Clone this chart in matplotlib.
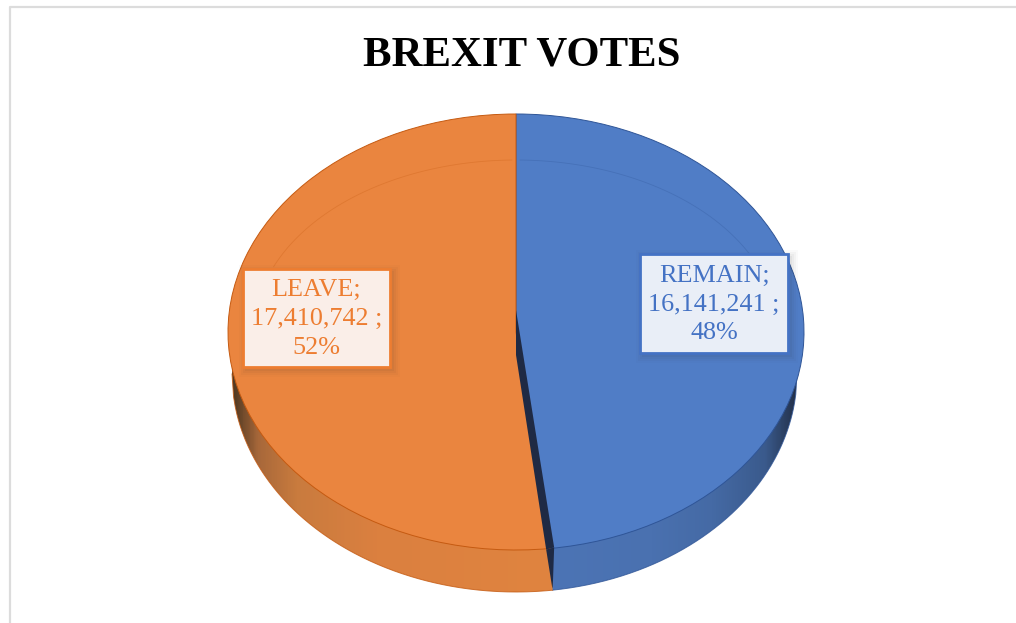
#!/usr/bin/env python3
"""Pseudo-3D pie of the Brexit referendum votes."""

import numpy as np
import matplotlib
matplotlib.use("Agg")
import matplotlib.pyplot as plt
import matplotlib.patches as patches
from matplotlib.colors import LinearSegmentedColormap
from matplotlib.path import Path

W, H = 1016, 623

categories = ["REMAIN", "LEAVE"]
votes = [16141241, 17410742]
shares = [48, 52]

TITLE = "BREXIT VOTES"

C_TOP = ["#507dc6", "#ea853f"]
C_RIM = ["#2f5597", "#c55a11"]
C_TEXT = ["#4472c4", "#ed7d31"]
C_BOX = ["#e9eef7", "#faeee8"]
C_INNER = "#1f2a44"

# pie geometry in pixels
CX, CY = 516, 332
RX, RY = 288, 218
DEPTH = 42
# the lower rim looks a little narrower than the top face
RX_LOW_LEFT, RX_LOW_RIGHT = 284, 281

plt.rcParams["font.family"] = ["Liberation Serif", "DejaVu Serif"]

fig = plt.figure(figsize=(W / 100, H / 100), dpi=100, facecolor="white")


def pixel_axes(zorder):
    ax = fig.add_axes([0, 0, 1, 1], zorder=zorder)
    ax.set_xlim(0, W)
    ax.set_ylim(H, 0)
    ax.axis("off")
    return ax


ax_wall = pixel_axes(1)
ax_over = pixel_axes(3)

# top face: the pie axes box is the bounding box of the ellipse, so it squashes
ax_pie = fig.add_axes([(CX - RX) / W, 1 - (CY + RY) / H, 2 * RX / W, 2 * RY / H],
                      zorder=2)
wedges, _ = ax_pie.pie(votes, colors=C_TOP, startangle=90, counterclock=False,
                       radius=1.0, wedgeprops={"linewidth": 0.7})
for w, ec in zip(wedges, C_RIM):
    w.set_edgecolor(ec)
    w.set_clip_on(False)
ax_pie.set_aspect("auto")
ax_pie.set_xlim(-1, 1)
ax_pie.set_ylim(-1, 1)

# where the slice boundary meets the rim
split = 2 * np.pi * votes[0] / sum(votes)
rim_x = CX + RX * np.sin(split)
rim_y = CY - RY * np.cos(split)

t = np.linspace(0, 1, 200)


def lower_rim(xs, rx):
    return CY + DEPTH + RY * np.sqrt(np.clip(1 - ((xs - CX) / rx) ** 2, 0, 1))


def band(x0, x1, rx):
    xs = np.linspace(x0, x1, 200)
    pts = np.r_[np.c_[xs, np.full_like(xs, CY)], np.c_[xs[::-1], lower_rim(xs[::-1], rx)]]
    return Path(np.r_[pts, pts[:1]])


# side wall, shaded towards the outer ends
wall_specs = [
    (rim_x + 2.5, CX + RX_LOW_RIGHT, RX_LOW_RIGHT, C_RIM[0],
     ["#4c74b5", "#4a71b0", "#456aa5", "#3a5a8c", "#222f48"], [0, 0.4, 0.65, 0.87, 1]),
    (CX - RX_LOW_LEFT, rim_x + 2.5, RX_LOW_LEFT, C_RIM[1],
     ["#4f3822", "#a8683a", "#c97b3e", "#db8040", "#e0843f"], [0, 0.08, 0.2, 0.45, 1]),
]
for x0, x1, rx, edge, cols, stops in wall_specs:
    cmap = LinearSegmentedColormap.from_list("wall", list(zip(stops, cols)))
    im = ax_wall.imshow(t[None, :], cmap=cmap, aspect="auto",
                        extent=(x0, x1, CY + DEPTH + RY + 2, CY - 2))
    im.set_clip_path(patches.PathPatch(band(x0, x1, rx), transform=ax_wall.transData))
    xs = np.linspace(x0, x1, 200)
    ax_wall.plot(xs, lower_rim(xs, rx), color=edge, lw=0.7, alpha=0.8)
ax_wall.set_xlim(0, W)
ax_wall.set_ylim(H, 0)

# dark inner wall showing through the gap between the slices
ax_over.add_patch(patches.Polygon(
    [(CX, CY - 22), (CX, CY + 23), (rim_x - 4, rim_y + 1), (rim_x + 4, rim_y - 1)],
    closed=True, fc=C_INNER, ec="none"))
ax_over.add_patch(patches.Polygon(
    [(rim_x - 4, rim_y + 1), (rim_x + 4, rim_y - 1), (rim_x + 2.5, rim_y + DEPTH)],
    closed=True, fc=C_INNER, ec="none"))

# faint bevel ring on the top face, only on its upper part
th = np.linspace(0, 2 * np.pi, 400)
for i, (lo, hi) in enumerate([(0, split), (split, 2 * np.pi)]):
    ring_x = CX + 262 * np.sin(th)
    ring_y = CY - 172 * np.cos(th)
    mask = (th > lo) & (th < hi) & (ring_y < 268)
    ax_over.plot(ring_x[mask], ring_y[mask], color=C_RIM[i], lw=0.6, alpha=0.3, zorder=0.5)

# data labels with their soft drop shadow
boxes = [(640, 254, 148, 99), (243, 269, 147, 98)]
for name, v, pct, (bx, by, bw, bh), col, fc in zip(categories, votes, shares, boxes, C_TEXT, C_BOX):
    for grow, a in [(7, 0.02), (5, 0.03), (3, 0.04), (1, 0.05)]:
        ax_over.add_patch(patches.Rectangle((bx + 3 - grow, by + 3 - grow),
                                            bw + 2 * grow, bh + 2 * grow,
                                            fc="#303030", ec="none", alpha=a))
    ax_over.add_patch(patches.Rectangle((bx, by), bw, bh, fc=fc, ec=col, lw=2))
    ax_over.text(bx + bw / 2, by + bh / 2 + 1, f"{name};\n{v:,} ;\n{pct}%",
                 ha="center", va="center", color=col, fontsize=18.8, linespacing=1.4)

ax_over.text(521.5, 55, TITLE, ha="center", va="center", fontsize=30.8,
             fontweight="bold", color="black")

# chart area frame, cropped at the right and bottom
ax_over.plot([9.5, 9.5, W], [H, 7, 7], color="#dcdcdc", lw=1.6)

fig.savefig("out.png", dpi=100)
